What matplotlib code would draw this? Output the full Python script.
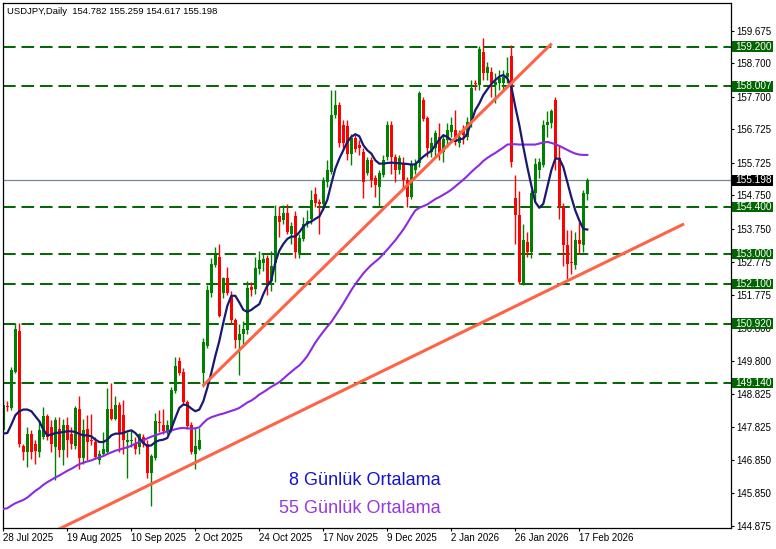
import matplotlib
matplotlib.use("Agg")
import matplotlib.pyplot as plt
import matplotlib.transforms as mtransforms
from matplotlib.patches import Rectangle
import numpy as np

plt.rcParams['font.family'] = ['Liberation Sans', 'DejaVu Sans']

# daily candles, one per trading day starting 28 Jul 2025
opens = [
    147.73, 148.47, 148.41, 149.48, 150.71, 147.26, 147.08, 147.61, 147.31, 147.08,
    147.53, 148.15, 147.83, 147.23, 147.78, 147.15, 147.88, 147.61, 147.26, 148.38,
    146.90, 147.78, 147.40, 147.38, 146.83, 147.01, 147.08, 148.36, 148.08, 148.50,
    148.18, 147.38, 147.41, 147.33, 147.23, 147.53, 147.31, 146.45, 146.90, 147.99,
    147.88, 147.68, 147.73, 148.91, 149.80, 149.48, 148.58, 147.88, 147.03, 147.18,
    149.44, 150.25, 151.82, 152.67, 152.90, 151.82, 152.27, 151.72, 151.04, 150.42,
    150.62, 150.74, 152.00, 151.94, 152.54, 152.72, 152.87, 152.20, 152.72, 154.14,
    154.02, 154.22, 153.60, 154.14, 153.02, 153.45, 153.90, 154.05, 154.80, 154.55,
    154.50, 155.15, 155.45, 157.15, 157.45, 156.85, 156.83, 155.98, 156.46, 156.26,
    156.06, 155.41, 155.81, 155.26, 155.00, 155.36, 155.91, 156.86, 155.91, 155.51,
    155.71, 155.21, 154.71, 155.50, 155.71, 157.61, 157.06, 156.06, 156.16, 156.51,
    156.05, 156.40, 156.66, 156.71, 156.31, 156.70, 156.50, 156.93, 158.12, 158.05,
    159.05, 158.40, 158.45, 158.05, 158.10, 158.10, 158.30, 158.91, 154.67, 154.17,
    152.11, 153.35, 153.06, 154.81, 155.51, 155.66, 156.86, 156.91, 157.60, 155.86,
    154.41, 153.26, 152.72, 152.66, 153.43, 153.26, 154.782,
]
highs = [
    148.65, 148.60, 149.63, 150.93, 150.93, 147.33, 147.83, 147.73, 147.43, 148.03,
    148.43, 148.23, 148.03, 148.13, 148.13, 148.08, 148.13, 147.83, 148.45, 148.76,
    148.08, 148.18, 148.21, 147.53, 147.15, 147.68, 148.98, 149.15, 148.75, 148.58,
    148.63, 147.68, 147.75, 147.53, 147.65, 147.63, 147.43, 147.03, 148.26, 148.33,
    148.38, 148.03, 149.01, 149.93, 149.93, 149.58, 148.63, 147.98, 147.83, 147.81,
    150.48, 152.07, 152.87, 153.22, 153.29, 152.32, 152.62, 151.90, 151.10, 150.90,
    151.00, 152.20, 152.15, 152.90, 153.10, 153.00, 152.97, 153.10, 154.47, 154.42,
    154.47, 154.50, 153.95, 154.27, 153.60, 154.10, 154.30, 154.90, 155.00, 154.65,
    155.30, 155.80, 157.90, 157.90, 157.55, 157.00, 157.00, 156.60, 156.55, 156.40,
    156.16, 155.90, 155.90, 155.35, 155.50, 155.95, 156.96, 156.96, 156.00, 155.95,
    155.90, 155.30, 155.80, 155.85, 157.86, 157.70, 157.11, 156.50, 156.70, 156.90,
    156.60, 156.90, 157.10, 157.30, 156.70, 156.85, 157.10, 158.20, 158.20, 159.22,
    159.45, 158.75, 158.60, 158.40, 158.50, 158.50, 158.90, 159.26, 155.36, 154.88,
    153.90, 153.65, 154.90, 155.88, 155.86, 157.00, 157.26, 157.33, 157.70, 156.26,
    154.51, 153.71, 153.71, 153.66, 153.96, 154.91, 155.259,
]
lows = [
    147.65, 148.30, 148.33, 149.43, 147.23, 146.83, 146.63, 146.88, 146.73, 146.93,
    147.48, 147.43, 147.08, 146.23, 146.93, 146.68, 146.93, 147.18, 147.18, 146.58,
    146.73, 146.83, 147.28, 146.88, 146.73, 146.98, 147.03, 148.03, 148.03, 147.08,
    147.03, 146.31, 147.23, 147.01, 147.03, 147.23, 146.31, 145.46, 146.83, 147.68,
    147.63, 147.63, 147.68, 148.83, 149.38, 148.53, 147.78, 147.03, 146.58, 147.13,
    149.03, 150.20, 151.72, 152.62, 151.12, 151.67, 151.77, 150.95, 150.20, 149.37,
    150.30, 150.60, 151.75, 151.80, 152.40, 152.50, 151.77, 151.90, 152.17, 153.50,
    153.90, 153.60, 153.30, 152.87, 152.87, 153.40, 153.80, 153.90, 154.40, 153.60,
    154.30, 155.00, 155.40, 157.05, 156.20, 156.15, 155.80, 155.65, 156.05, 155.95,
    154.66, 155.35, 155.00, 154.70, 154.40, 155.30, 155.80, 155.40, 155.15, 155.40,
    154.95, 154.40, 154.65, 155.40, 155.60, 156.96, 155.90, 155.90, 155.90, 155.80,
    155.75, 156.20, 156.50, 156.25, 156.20, 156.30, 156.40, 156.80, 157.90, 157.90,
    158.20, 158.20, 157.70, 157.50, 157.90, 157.90, 158.10, 155.61, 153.31, 152.11,
    152.08, 152.90, 152.87, 154.60, 155.26, 155.60, 156.51, 156.76, 155.51, 154.06,
    152.65, 152.25, 152.41, 152.56, 153.01, 153.06, 154.617,
]
closes = [
    148.48, 148.43, 149.53, 150.75, 147.33, 147.08, 147.61, 147.08, 147.11, 147.73,
    148.15, 147.53, 147.33, 148.03, 147.13, 147.88, 147.43, 147.31, 148.40, 146.90,
    147.75, 147.38, 147.38, 146.93, 147.01, 147.18, 148.38, 148.08, 148.50, 147.63,
    147.43, 147.43, 147.45, 147.18, 147.63, 147.33, 146.45, 146.95, 148.00, 147.95,
    147.70, 147.88, 148.93, 149.65, 149.45, 148.58, 147.85, 147.08, 147.25, 147.43,
    150.36, 151.92, 152.70, 152.97, 151.15, 152.27, 151.82, 151.02, 150.44, 150.62,
    150.75, 151.97, 151.92, 152.57, 152.82, 152.85, 152.12, 152.65, 154.14, 153.97,
    154.22, 153.67, 153.85, 153.07, 153.47, 153.90, 154.00, 154.60, 154.52, 154.50,
    155.20, 155.50, 157.15, 157.45, 156.33, 156.33, 155.98, 156.46, 156.13, 156.16,
    155.16, 155.81, 155.21, 155.06, 155.41, 155.81, 156.86, 155.91, 155.51, 155.86,
    155.21, 154.71, 155.66, 155.70, 157.81, 157.03, 156.16, 156.31, 156.61, 156.01,
    156.45, 156.70, 156.86, 156.36, 156.51, 156.55, 156.95, 157.95, 158.08, 159.13,
    158.40, 158.60, 158.10, 158.15, 158.25, 158.30, 158.40, 155.76, 154.17, 152.17,
    153.41, 153.06, 154.81, 155.68, 155.74, 156.86, 156.93, 157.26, 155.86, 154.41,
    153.26, 152.71, 152.70, 153.43, 153.31, 154.81, 155.198,
]

ma8 = [
    147.63, 147.65, 147.90, 148.18, 148.30, 148.35, 148.35, 148.30, 148.15, 148.00,
    147.75, 147.58, 147.60, 147.65, 147.66, 147.68, 147.70, 147.70, 147.68, 147.62,
    147.58, 147.58, 147.55, 147.45, 147.38, 147.38, 147.45, 147.58, 147.63, 147.63,
    147.65, 147.70, 147.73, 147.65, 147.50, 147.35, 147.26, 147.28, 147.38, 147.43,
    147.45, 147.50, 147.78, 148.10, 148.40, 148.50, 148.48, 148.38, 148.30, 148.35,
    148.60, 149.00, 149.45, 149.95, 150.40, 150.95, 151.45, 151.75, 151.75, 151.55,
    151.33, 151.27, 151.33, 151.42, 151.50, 151.80, 152.05, 152.22, 152.75, 153.10,
    153.30, 153.45, 153.52, 153.52, 153.65, 153.82, 153.92, 153.97, 154.05, 154.12,
    154.35, 154.62, 155.10, 155.55, 155.85, 156.10, 156.35, 156.50, 156.58, 156.52,
    156.25, 156.10, 156.00, 155.80, 155.70, 155.70, 155.72, 155.73, 155.72, 155.71,
    155.70, 155.69, 155.67, 155.68, 155.80, 155.91, 156.00, 156.08, 156.25, 156.42,
    156.55, 156.50, 156.40, 156.38, 156.42, 156.45, 156.60, 156.95, 157.30, 157.50,
    157.75, 157.92, 158.08, 158.20, 158.30, 158.35, 158.25, 158.00, 157.40, 156.85,
    156.20, 155.60, 155.05, 154.55, 154.38, 154.50, 155.00, 155.50, 155.85, 155.85,
    155.60, 155.15, 154.70, 154.30, 154.00, 153.75, 153.73,
]
ma55 = [
    145.38, 145.40, 145.48, 145.55, 145.60, 145.65, 145.72, 145.82, 145.92, 146.00,
    146.10, 146.18, 146.25, 146.32, 146.38, 146.45, 146.52, 146.58, 146.65, 146.72,
    146.76, 146.80, 146.83, 146.88, 146.92, 146.96, 147.02, 147.07, 147.12, 147.15,
    147.19, 147.22, 147.27, 147.33, 147.38, 147.43, 147.49, 147.54, 147.58, 147.62,
    147.66, 147.70, 147.73, 147.76, 147.79, 147.80, 147.79, 147.78, 147.79, 147.82,
    147.95, 148.06, 148.12, 148.16, 148.20, 148.23, 148.27, 148.31, 148.35, 148.40,
    148.48, 148.56, 148.62, 148.70, 148.80, 148.87, 148.95, 149.03, 149.10, 149.17,
    149.27, 149.38, 149.48, 149.58, 149.67, 149.80, 149.95, 150.15, 150.35, 150.52,
    150.68, 150.83, 150.97, 151.15, 151.33, 151.52, 151.72, 151.92, 152.10, 152.26,
    152.42, 152.55, 152.67, 152.77, 152.87, 153.00, 153.13, 153.27, 153.41, 153.57,
    153.73, 153.92, 154.12, 154.30, 154.38, 154.43, 154.48, 154.56, 154.64, 154.70,
    154.77, 154.84, 154.92, 155.02, 155.12, 155.22, 155.33, 155.45, 155.56, 155.66,
    155.78, 155.87, 155.95, 156.02, 156.10, 156.18, 156.27, 156.28, 156.28, 156.27,
    156.27, 156.27, 156.27, 156.27, 156.30, 156.33, 156.35, 156.32, 156.28, 156.23,
    156.17, 156.11, 156.05, 156.00, 155.97, 155.96, 155.96,
]

date_bars = [0, 16, 32, 48, 64, 80, 96, 112, 128, 144]
date_labels = ['28 Jul 2025', '19 Aug 2025', '10 Sep 2025', '2 Oct 2025', '24 Oct 2025',
               '17 Nov 2025', '9 Dec 2025', '2 Jan 2026', '26 Jan 2026', '17 Feb 2026']

price_ticks = [159.675, 158.700, 157.700, 156.725, 155.725, 154.750, 153.750, 152.775,
               151.775, 150.800, 149.800, 148.825, 147.825, 146.850, 145.850, 144.875]
levels = [159.200, 158.007, 154.400, 153.000, 152.100, 150.920, 149.140]
last_price = 155.198

# trend lines (bar index, price)
upper_bars, upper_prices = [49.8, 137.1], [149.05, 159.29]
lower_bars, lower_prices = [10.0, 170.2], [144.55, 153.90]

UP = '#008000'
DOWN = '#ff0000'
LEVEL = '#006400'

W, H = 776, 549
fig = plt.figure(figsize=(W / 100, H / 100), dpi=100)
ax = fig.add_axes([2.5 / W, (H - 528) / H, 728 / W, 525.3 / H])

n = len(opens)
xs = np.arange(n)
o = np.array(opens)
c = np.array(closes)
colors = np.where(c >= o, UP, DOWN)
body = c - o
body = np.where(np.abs(body) < 0.03, 0.03, body)

# levels and last price
for lv in levels:
    ax.axhline(lv, color=LEVEL, lw=1.4, dashes=(6.5, 3.0), zorder=1)
ax.axhline(last_price, color='#778899', lw=0.9, zorder=1)

ax.vlines(xs, lows, highs, colors=colors, lw=1.0, zorder=2)
ax.bar(xs, body, bottom=o, width=0.74, color=colors, linewidth=0, zorder=2.1)

ax.plot(xs, ma55, color='#8a2be2', lw=1.5, zorder=3)
ax.plot(xs, ma8, color='#191970', lw=1.6, zorder=3.1)

ax.plot(upper_bars, upper_prices, color='#ff6347', lw=2.2, zorder=3.5, solid_capstyle='butt')
ax.plot(lower_bars, lower_prices, color='#ff6347', lw=2.2, zorder=3.5, solid_capstyle='butt')

ax.set_xlim(-0.21, 181.8)
ax.set_ylim(144.81, 160.51)

ax.yaxis.tick_right()
ax.set_yticks(price_ticks)
ax.set_yticklabels([f'{p:.3f}' for p in price_ticks])
ax.tick_params(axis='y', direction='out', length=2.2, width=0.8, pad=2.2,
               labelsize=7, colors='black')
ax.set_xticks(date_bars)
ax.set_xticklabels(date_labels, ha='left')
ax.tick_params(axis='x', direction='out', length=2.5, width=0.8, pad=0.8, labelsize=7)
for sp in ax.spines.values():
    sp.set_linewidth(0.9)

# price labels on the right scale
tr = mtransforms.blended_transform_factory(ax.transAxes, ax.transData)
box_h = 0.32
for lv, bg in [(v, LEVEL) for v in levels] + [(last_price, 'black')]:
    ax.add_patch(Rectangle((1.0025, lv - box_h / 2), 0.0555, box_h, transform=tr,
                           facecolor=bg, edgecolor='none', clip_on=False, zorder=4))
    ax.text(1.0065, lv, f'{lv:.3f}', transform=tr, color='white', fontsize=7.3,
            va='center', ha='left', clip_on=False, zorder=5)

fig.text(7.3 / W, 1 - 11 / H, 'USDJPY,Daily  154.782 155.259 154.617 155.198',
         fontsize=6.8, va='center', ha='left')

ax.text(0.6023, 0.0895, '8 Günlük Ortalama', transform=ax.transAxes, fontsize=13,
        color='#1414c8', ha='right', va='center')
ax.text(0.6023, 0.0362, '55 Günlük Ortalama', transform=ax.transAxes, fontsize=13,
        color='#9638dc', ha='right', va='center')

fig.savefig('out.png', dpi=100)
